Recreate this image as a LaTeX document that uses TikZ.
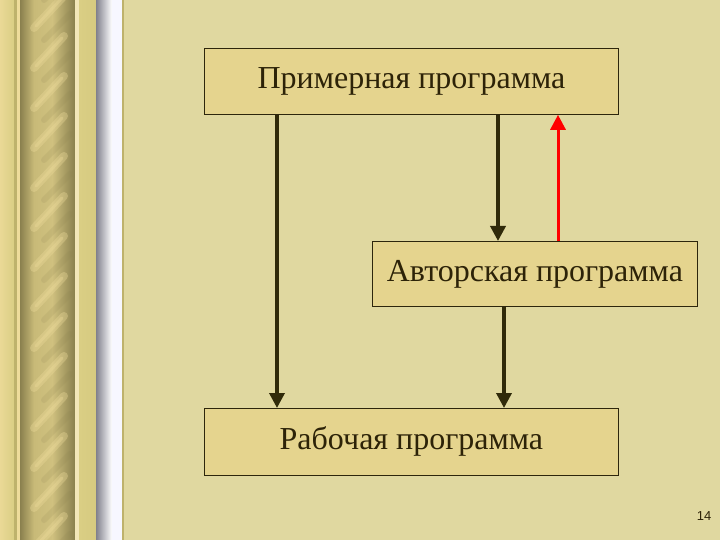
\documentclass[tikz,border=0pt]{standalone}
\usepackage{fontspec}
\setmainfont{Liberation Serif}
\newfontfamily\pagefont{Liberation Sans}
\usetikzlibrary{arrows.meta}
\definecolor{bg}{RGB}{224,216,160}
\definecolor{boxfill}{RGB}{229,212,142}
\definecolor{boxline}{RGB}{45,38,12}
\definecolor{arrowc}{RGB}{48,42,10}
\definecolor{txt}{RGB}{45,35,8}
\definecolor{goldA}{RGB}{218,206,132}
\definecolor{goldB}{RGB}{190,178,108}
\definecolor{goldDark}{RGB}{138,128,78}
\definecolor{goldMid}{RGB}{200,186,120}
\definecolor{goldLight}{RGB}{238,220,155}
\definecolor{grayA}{RGB}{128,128,140}
\tikzset{
  prog/.style={draw=boxline, line width=0.8pt, fill=boxfill, inner sep=0pt, anchor=north west},
  progtext/.style={text=txt, font=\fontsize{32}{38}\selectfont},
  flow/.style={draw=arrowc, line width=3.5pt, -{Triangle[width=15pt,length=15pt]}},
  back/.style={draw=red, line width=3pt, -{Triangle[width=15pt,length=15pt]}}
}
\begin{document}
\begin{tikzpicture}[x=1pt,y=-1pt]
\useasboundingbox (0,0) rectangle (720,540);
\fill[bg] (0,0) rectangle (720,540);
% decorative left stripe
\shade[left color=goldLight!80!goldA, right color=goldA] (0,0) rectangle (14,540);
\fill[goldB] (14,0) rectangle (17,540);
\fill[goldLight] (17,0) rectangle (20,540);
\shade[left color=goldDark, right color=goldMid] (20,0) rectangle (34,540);
\shade[left color=goldMid, right color=goldMid!80!goldLight] (34,0) rectangle (52,540);
\shade[left color=goldMid!80!goldLight, right color=goldDark] (52,0) rectangle (75,540);
\begin{scope}
\clip (22,0) rectangle (72,540);
\foreach \y in {-40,0,...,560} {
  \draw[goldLight, line width=8pt, opacity=0.35, line cap=round] (34,\y+28) -- (64,\y-4);
  \draw[goldLight, line width=3pt, opacity=0.35, line cap=round] (36,\y+26) -- (62,\y-2);
  \draw[goldDark, line width=6pt, opacity=0.15, line cap=round] (44,\y+40) -- (70,\y+14);
}
\end{scope}
\fill[goldLight!70!white] (75,0) rectangle (79,540);
\shade[left color=goldA, right color=goldA!85!goldB] (79,0) rectangle (96,540);
\shade[left color=grayA, right color=white] (96,0) rectangle (112,540);
\fill[white!97!blue] (112,0) rectangle (122,540);
\fill[goldB] (122,0) rectangle (124,540);
% boxes
\node[prog, minimum width=414pt, minimum height=66pt] (b1) at (204,48) {};
\node[progtext] (t1) at (b1.center) {Примерная программа};
\node[prog, minimum width=325pt, minimum height=65pt] (b2) at (372,241) {};
\node[progtext] (t2) at (b2.center) {Авторская программа};
\node[prog, minimum width=414pt, minimum height=67pt] (b3) at (204,408) {};
\node[progtext] (t3) at (b3.center) {Рабочая программа};
% arrows
\draw[flow] (b1.south -| 277,0) -- (b3.north -| 277,0);
\draw[flow] (b1.south -| 498,0) -- (b2.north -| 498,0);
\draw[back] (b2.north -| 558,0) -- (b1.south -| 558,0);
\draw[flow] (b2.south -| 504,0) -- (b3.north -| 504,0);
\node[font=\pagefont\fontsize{13}{15}\selectfont, text=txt] (pg) at (704,516) {14};
\end{tikzpicture}
\end{document}
